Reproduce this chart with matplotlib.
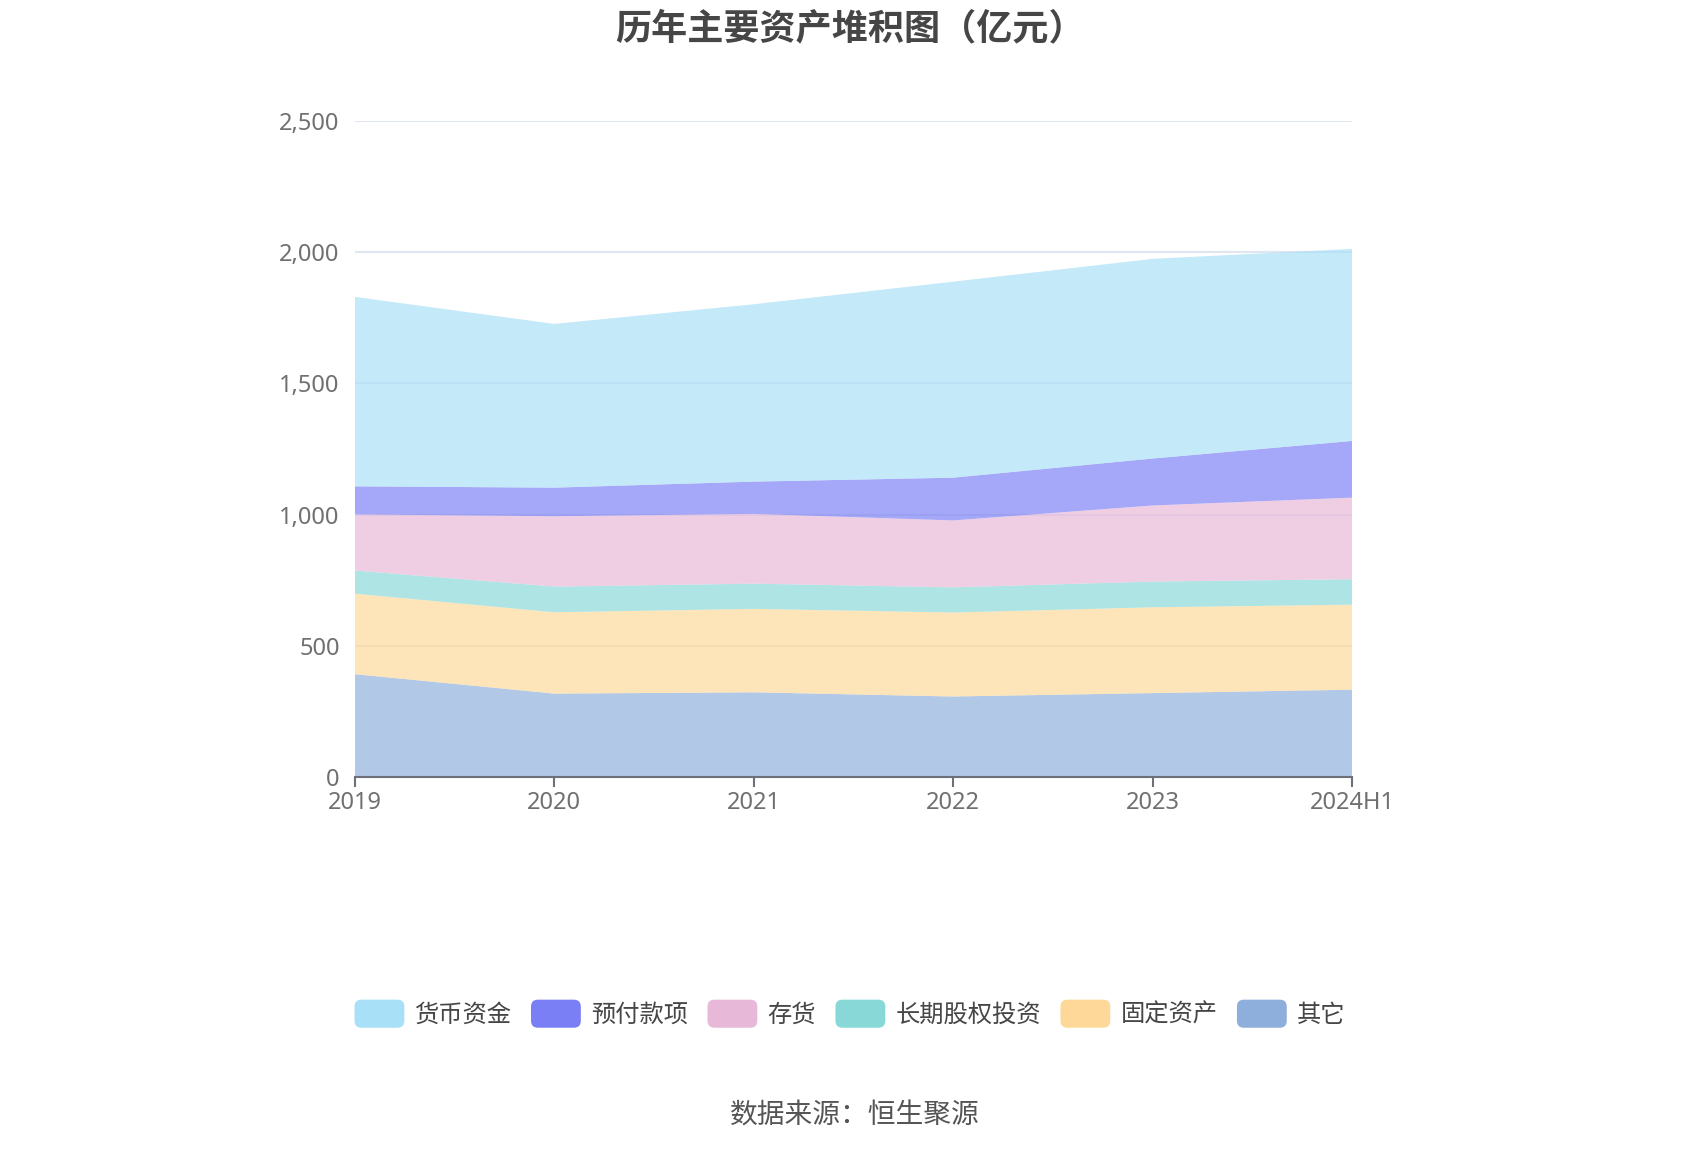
import numpy as np
import matplotlib
matplotlib.use('Agg')
import matplotlib.pyplot as plt
from matplotlib.patches import Patch, FancyBboxPatch
from matplotlib.legend_handler import HandlerPatch
from matplotlib.ticker import FuncFormatter

plt.rcParams['font.family'] = ['Noto Sans CJK SC', 'DejaVu Sans']

years = ['2019', '2020', '2021', '2022', '2023', '2024H1']
# stacked from the bottom up (亿元)
other = [392, 318, 323, 307, 320, 333]
fixed_assets = [307, 310, 318, 320, 327, 324]
lt_equity = [88, 98, 96, 96, 98, 97]
inventory = [214, 268, 266, 255, 290, 311]
prepayments = [107, 109, 123, 163, 179, 216]
cash = [722, 624, 676, 747, 761, 732]

series = [
    ('其它', other, '#8eaedc'),
    ('固定资产', fixed_assets, '#fed898'),
    ('长期股权投资', lt_equity, '#88d8d8'),
    ('存货', inventory, '#e8b8d8'),
    ('预付款项', prepayments, '#7b7ff5'),
    ('货币资金', cash, '#a8e0f8'),
]


class RoundBoxHandler(HandlerPatch):
    def create_artists(self, legend, orig_handle, xdescent, ydescent,
                       width, height, fontsize, trans):
        p = FancyBboxPatch((-xdescent, -ydescent), width, height,
                           boxstyle='round,pad=0,rounding_size=5',
                           facecolor=orig_handle.get_facecolor(),
                           edgecolor='none', transform=trans)
        return [p]


fig = plt.figure(figsize=(17, 11.5), dpi=100)
ax = fig.add_axes([0.2088, 0.3243, 0.5865, 0.5704])

x = np.arange(len(years))
ax.stackplot(x, *[s[1] for s in series], colors=[s[2] for s in series],
             alpha=0.68, linewidth=0, zorder=3)

ax.set_xlim(0, len(years) - 1)
ax.set_ylim(0, 2500)
ax.set_yticks(np.arange(0, 2501, 500))
ax.yaxis.set_major_formatter(FuncFormatter(lambda v, p: f'{int(v):,}'))
ax.set_xticks(x)
ax.set_xticklabels(years)

ax.grid(axis='y', color='#e0e6f1', linewidth=1.5, zorder=1)
ax.set_axisbelow(True)
for sp in ['top', 'right', 'left']:
    ax.spines[sp].set_visible(False)
ax.spines['bottom'].set_color('#6e7079')
ax.spines['bottom'].set_linewidth(1.5)
ax.spines['bottom'].set_zorder(5)

ax.tick_params(axis='y', length=0, pad=11, labelsize=17, labelcolor='#707070')
ax.tick_params(axis='x', length=7, width=1.5, color='#6e7079', pad=3,
               labelsize=17, labelcolor='#707070')
for lab in ax.get_xticklabels() + ax.get_yticklabels():
    lab.set_family(['Noto Sans', 'DejaVu Sans'])

fig.text(0.5, 0.975, '历年主要资产堆积图（亿元）', ha='center', va='center',
         fontsize=26, fontweight='bold', color='#464646')

handles = [Patch(facecolor=c, label=n) for n, _, c in reversed(series)]
fig.legend(handles=handles, loc='center', bbox_to_anchor=(0.5, 0.1185),
           ncol=6, frameon=False, fontsize=17.5, handlelength=2.05,
           handleheight=1.4, handletextpad=0.42, columnspacing=0.8,
           labelcolor='#464646',
           handler_map={Patch: RoundBoxHandler()})

fig.text(0.503, 0.0295, '数据来源：恒生聚源', ha='center', va='center',
         fontsize=20, color='#555555')

fig.savefig('out.png', dpi=100)
